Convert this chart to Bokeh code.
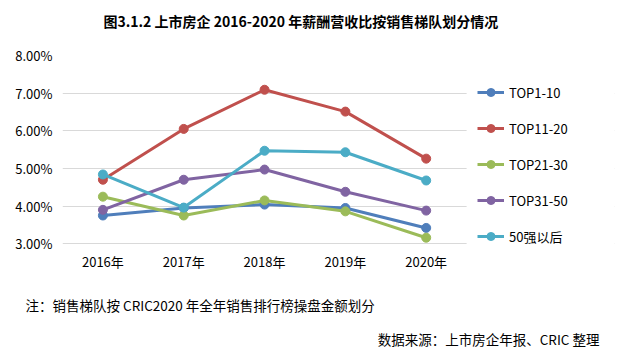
from bokeh.plotting import figure
from bokeh.models import (FixedTicker, NumeralTickFormatter, Legend, LegendItem, Title,
                          ColumnDataSource, Range1d, BoxAnnotation)
from bokeh.embed import file_html
from bokeh.resources import INLINE

years = ["2016年", "2017年", "2018年", "2019年", "2020年"]
series_names = ["TOP1-10", "TOP11-20", "TOP21-30", "TOP31-50", "50强以后"]
top1_10 = [0.0375, 0.0395, 0.0404, 0.0395, 0.0342]
top11_20 = [0.0470, 0.0605, 0.0709, 0.0651, 0.0526]
top21_30 = [0.0425, 0.0375, 0.0415, 0.0386, 0.0316]
top31_50 = [0.0390, 0.0470, 0.0497, 0.0438, 0.0388]
after50 = [0.0484, 0.0396, 0.0547, 0.0543, 0.0468]
colors = ["#4F7EBB", "#C0504D", "#9BBB59", "#8064A2", "#4BACC6"]
y_ticks = [0.03, 0.04, 0.05, 0.06, 0.07, 0.08]

title_text = "图3.1.2 上市房企 2016-2020 年薪酬营收比按销售梯队划分情况"
note_text = "注：销售梯队按 CRIC2020 年全年销售排行榜操盘金额划分"
source_text = "数据来源：上市房企年报、CRIC 整理"

FONT = "Noto Sans CJK SC"
xi = list(range(len(years)))

p = figure(width=619, height=354, x_range=Range1d(-0.5, 6.33), y_range=(0.029, 0.08),
           output_backend="svg", toolbar_location=None,
           min_border_left=62, min_border_right=5, min_border_top=55, min_border_bottom=107)
p.outline_line_color = None
p.background_fill_color = "white"
p.border_fill_color = "white"

p.xgrid.grid_line_color = None
p.ygrid.grid_line_color = "#D9D9D9"
p.ygrid.grid_line_width = 1
p.yaxis.ticker = FixedTicker(ticks=y_ticks)
p.yaxis.formatter = NumeralTickFormatter(format="0.00%")
p.xaxis.ticker = FixedTicker(ticks=xi)
p.xaxis.major_label_overrides = {i: y for i, y in zip(xi, years)}
for ax in (p.xaxis[0], p.yaxis[0]):
    ax.axis_line_color = None
    ax.major_tick_line_color = None
    ax.minor_tick_line_color = None
    ax.major_label_text_font = FONT
    ax.major_label_text_font_size = "13px"
    ax.major_label_text_color = "#000000"
p.xaxis.major_label_standoff = -2
p.yaxis.major_label_standoff = 4

items = []
for name, vals, c in zip(series_names, [top1_10, top11_20, top21_30, top31_50, after50], colors):
    src = ColumnDataSource(dict(x=xi, y=vals))
    r1 = p.line("x", "y", source=src, line_color=c, line_width=3)
    r2 = p.scatter("x", "y", source=src, size=9, fill_color=c, line_color=c)
    items.append(LegendItem(label=name, renderers=[r1, r2]))

# blank out the gridlines to the right of the category area (legend zone)
p.add_layout(BoxAnnotation(left=4.5, fill_color="white", fill_alpha=1, line_color=None))

legend = Legend(items=items, location=(415, 1), spacing=16, label_text_font=FONT,
                label_text_font_size="13px", label_text_color="#000000",
                glyph_width=27, glyph_height=20, label_height=20, label_standoff=5,
                border_line_color=None, background_fill_alpha=0, padding=0, margin=0)
p.add_layout(legend)

# title (outermost) + spacer between it and the plot
p.title.text = title_text
p.title.align = "left"
p.title.offset = 41
p.title.vertical_align = "top"
p.title.standoff = 8
p.title.text_font = FONT
p.title.text_font_size = "14px"
p.title.text_font_style = "bold"
p.title.text_color = "#000000"
p.add_layout(Title(text=" ", text_font_size="1px", standoff=16), "above")

# spacer, note and source below the x axis
p.add_layout(Title(text=" ", text_font_size="1px", standoff=4), "below")
p.add_layout(Title(text=note_text, align="left", offset=-37, vertical_align="bottom",
                   standoff=24, text_font=FONT, text_font_size="13.5px",
                   text_font_style="normal", text_color="#000000"), "below")
p.add_layout(Title(text=source_text, align="right", offset=15, vertical_align="top",
                   standoff=5, text_font=FONT, text_font_size="13.5px",
                   text_font_style="normal", text_color="#000000"), "below")

open("out.html", "w").write(file_html(p, INLINE))
